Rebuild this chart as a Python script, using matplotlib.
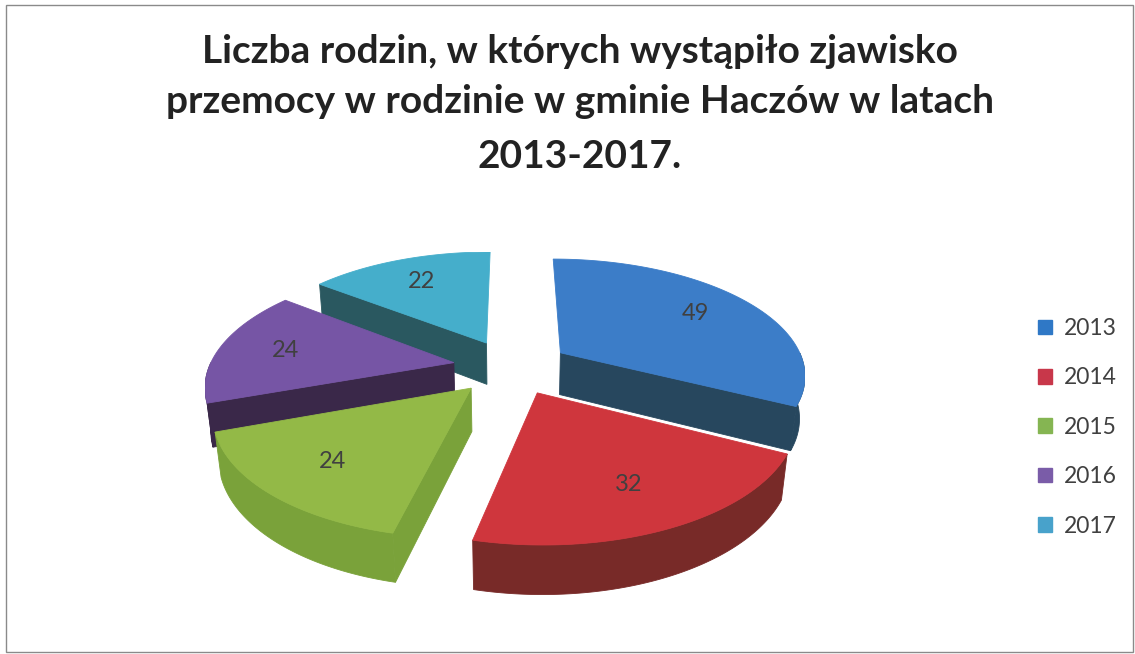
import numpy as np
import matplotlib.pyplot as plt
from matplotlib.patches import Polygon, Patch, Rectangle

# data
years = ['2013', '2014', '2015', '2016', '2017']
counts = [49, 32, 24, 24, 22]
title_lines = ['Liczba rodzin, w których wystąpiło zjawisko',
               'przemocy w rodzinie w gminie Haczów w latach',
               '2013-2017.']

top_colors = ['#3C7DC8', '#CF363D', '#93B947', '#7655A5', '#45AECB']
side_colors = ['#27475E', '#782A28', '#7AA23A', '#3A2849', '#2A5860']
legend_colors = ['#2F78C6', '#C8374A', '#85B552', '#7A5CA8', '#48A2CB']

W, H = 1135, 654

# view parameters of the fake 3d pie
ELEV = np.radians(28)
DIST = 5.0
DEPTH = 0.2
EXPLODE = 0.24


def project(x, y, z):
    """Simple perspective projection, y points away from the viewer."""
    v = z * np.cos(ELEV) + y * np.sin(ELEV)
    w = y * np.cos(ELEV) - z * np.sin(ELEV)
    k = DIST / (DIST + w)
    return np.column_stack([x * k, v * k])


def arc(cx, cy, a0, a1, z, n=200):
    t = np.radians(np.linspace(a0, a1, n))
    return project(cx + np.cos(t), cy + np.sin(t), np.full(n, z))


total = float(sum(counts))
fracs = np.array(counts) / total
starts = 90 - 360 * np.concatenate([[0], np.cumsum(fracs)[:-1]])
ends = starts - 360 * fracs

slices = []
for i in range(len(counts)):
    a_hi, a_lo = starts[i], ends[i]
    mid = np.radians((a_hi + a_lo) / 2)
    cx, cy = EXPLODE * np.cos(mid), EXPLODE * np.sin(mid)
    polys = []
    # outer wall, only the part turned towards the viewer
    t = np.linspace(a_lo, a_hi, 400)
    vis = np.sin(np.radians(t)) < 0
    if vis.any():
        tt = np.radians(t[vis])
        topp = project(cx + np.cos(tt), cy + np.sin(tt), np.zeros(len(tt)))
        bot = project(cx + np.cos(tt), cy + np.sin(tt), np.full(len(tt), -DEPTH))
        polys.append((np.vstack([topp, bot[::-1]]), side_colors[i]))
    # cut faces
    for ang, ok in ((a_hi, np.cos(np.radians(a_hi)) < -1e-6),
                    (a_lo, np.cos(np.radians(a_lo)) > 1e-6)):
        if ok:
            r = np.radians(ang)
            xs = np.array([cx, cx + np.cos(r), cx + np.cos(r), cx])
            ys = np.array([cy, cy + np.sin(r), cy + np.sin(r), cy])
            zs = np.array([0, 0, -DEPTH, -DEPTH])
            polys.insert(0, (project(xs, ys, zs), side_colors[i]))
    # top face
    apex = project(np.array([cx]), np.array([cy]), np.array([0.0]))
    topface = np.vstack([apex, arc(cx, cy, a_lo, a_hi, 0.0)])
    polys.append((topface, top_colors[i]))
    lab = project(np.array([cx + 0.72 * np.cos(mid)]),
                  np.array([cy + 0.72 * np.sin(mid)]), np.array([0.0]))[0]
    slices.append((np.sin(mid), polys, lab, counts[i]))

allpts = np.vstack([p for s in slices for p, c in s[1]])
xmin, ymin = allpts.min(axis=0)
xmax, ymax = allpts.max(axis=0)
scale = 600.0 / (xmax - xmin)
ax_h = (ymax - ymin) * scale

fig = plt.figure(figsize=(W / 100, H / 100), dpi=100)
ax = fig.add_axes([205 / W, 1 - (252 + ax_h) / H, 600 / W, ax_h / H])
ax.set_xlim(xmin, xmax)
ax.set_ylim(ymin, ymax)
ax.axis('off')

for depth_key, polys, lab, val in sorted(slices, key=lambda s: -s[0]):
    for pts, col in polys:
        ax.add_patch(Polygon(pts, closed=True, facecolor=col, edgecolor=col, lw=0.6))
for depth_key, polys, lab, val in slices:
    ax.text(lab[0], lab[1], str(val), ha='center', va='center',
            fontsize=17, color='#404040', family='Lato')

baselines = [63, 113, 168]
for line, yb in zip(title_lines, baselines):
    fig.text(580 / W, 1 - yb / H, line, ha='center', va='baseline',
             fontsize=28, fontweight='bold', color='#222222', family='Lato')

handles = [Patch(facecolor=c, edgecolor=c, label=y) for c, y in zip(legend_colors, years)]
fig.legend(handles=handles, loc='upper left', bbox_to_anchor=(1038 / W, 1 - 318 / H),
           frameon=False, handlelength=0.6, handleheight=0.6, handletextpad=0.55,
           labelspacing=1.24, labelcolor='#404040', prop={'family': 'Lato', 'size': 16.5},
           borderpad=0, borderaxespad=0)

fig.patches.append(Rectangle((6 / W, 1 - 652 / H), 1127 / W, 647 / H,
                             transform=fig.transFigure, fill=False,
                             edgecolor='#8a8a8a', lw=1))

fig.savefig('out.png', dpi=100)
